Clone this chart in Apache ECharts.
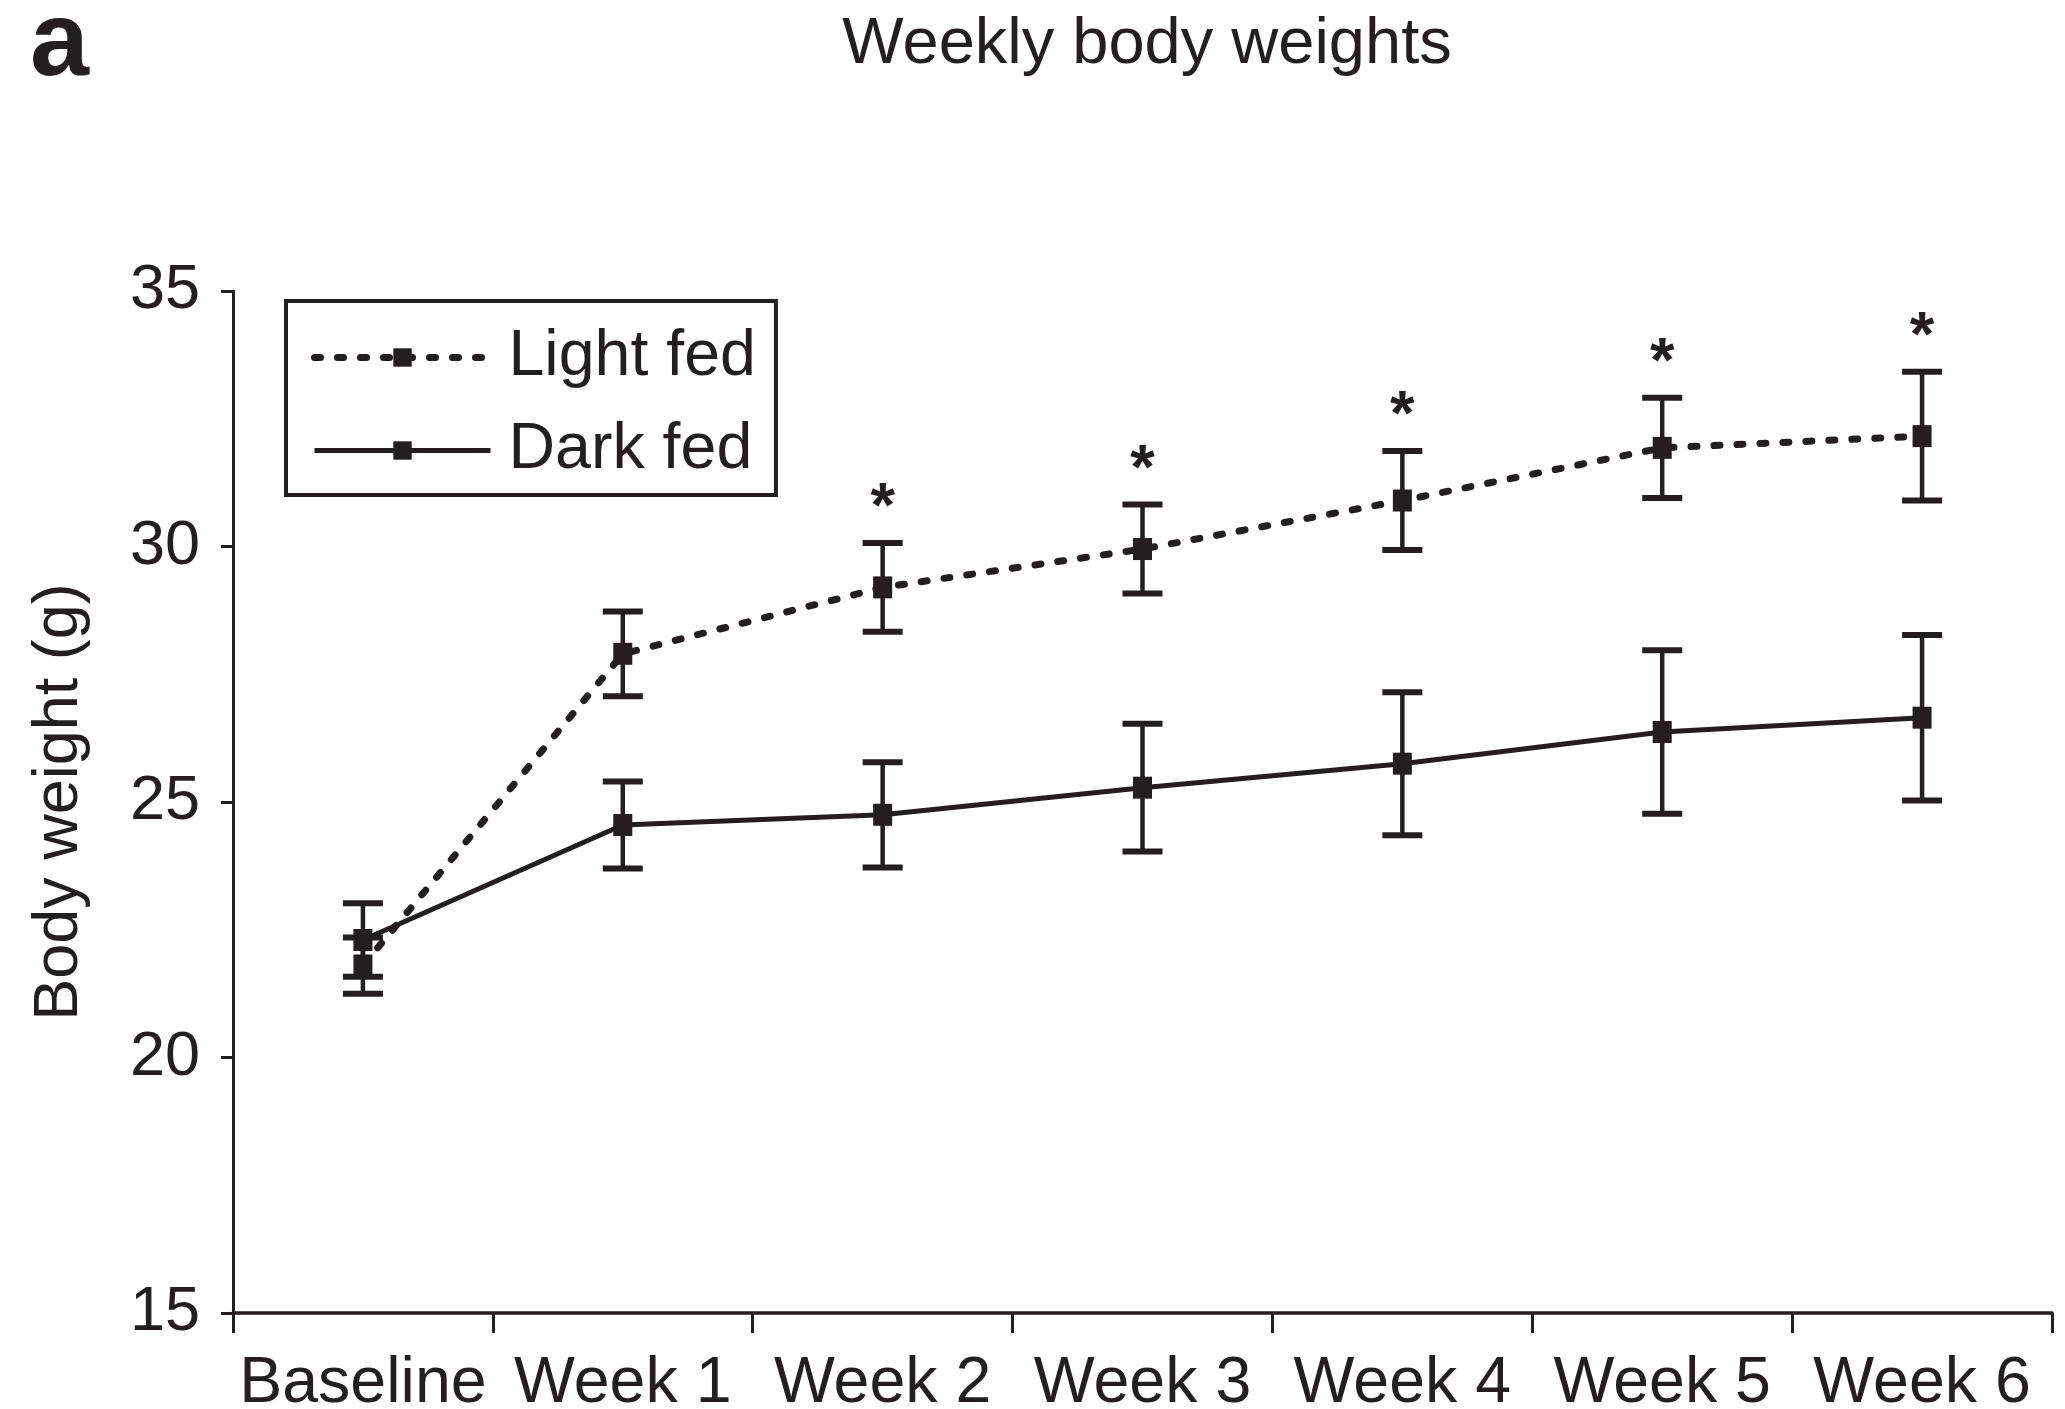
<!DOCTYPE html>
<html><head><meta charset="utf-8">
<script src="https://cdn.jsdelivr.net/npm/echarts@6/dist/echarts.min.js"></script>
<style>html,body{margin:0;padding:0;background:#fff}#chart{width:2065px;height:1409px}</style>
</head><body><div id="chart"></div>
<script>
const categories = ['Baseline', 'Week 1', 'Week 2', 'Week 3', 'Week 4', 'Week 5', 'Week 6'];
const lightFed = [21.8, 27.9, 29.2, 29.95, 30.9, 31.93, 32.16];
const lightFedErr = [0.55, 0.83, 0.87, 0.87, 0.97, 0.98, 1.26];
const darkFed = [22.3, 24.55, 24.75, 25.28, 25.75, 26.37, 26.65];
const darkFedErr = [0.72, 0.85, 1.03, 1.25, 1.4, 1.6, 1.62];
const significant = [false, false, true, true, true, true, true];
const yMin = 15, yMax = 35, yInterval = 5;

const C = '#231f20';
const FONT = '"Liberation Sans", Arial, Helvetica, sans-serif';
const FS = 63;
const FSX = 64.5;

function errData(vals, errs, sig) {
  return vals.map((v, i) => [i, v - errs[i], v + errs[i], sig && sig[i] ? 1 : 0]);
}
function errRender(params, api) {
  const i = api.value(0), lo = api.value(1), hi = api.value(2), star = api.value(3);
  const top = api.coord([i, hi]), bot = api.coord([i, lo]);
  const hw = 20;
  const children = [
    {type: 'line', shape: {x1: top[0], y1: top[1], x2: bot[0], y2: bot[1]}, style: {stroke: C, lineWidth: 4.5}},
    {type: 'line', shape: {x1: top[0] - hw, y1: top[1], x2: top[0] + hw, y2: top[1]}, style: {stroke: C, lineWidth: 6}},
    {type: 'line', shape: {x1: bot[0] - hw, y1: bot[1], x2: bot[0] + hw, y2: bot[1]}, style: {stroke: C, lineWidth: 6}}
  ];
  if (star) {
    children.push({type: 'text', x: top[0], y: top[1] - 34,
      style: {text: '*', fill: C, font: 'bold ' + FS + 'px ' + FONT, align: 'center', verticalAlign: 'middle'}});
  }
  return {type: 'group', children};
}

const chart = echarts.init(document.getElementById('chart'), null, {renderer: 'canvas'});
chart.setOption({
  animation: false,
  backgroundColor: '#fff',
  title: [
    {text: 'Weekly body weights', left: 1142, textAlign: 'center', top: 8,
      textStyle: {fontSize: 65, fontWeight: 'normal', color: C, fontFamily: FONT}},
    {text: 'a', left: 25, top: -12,
      textStyle: {fontSize: 106, fontWeight: 'bold', color: C, fontFamily: FONT}}
  ],
  grid: {left: 233, right: 13, top: 291, bottom: 96, containLabel: false, outerBoundsMode: 'none'},
  legend: {
    data: [
      {name: 'Light fed', lineStyle: {width: 7, type: [6, 17], cap: 'round', color: C}},
      {name: 'Dark fed', lineStyle: {width: 5, type: 'solid', color: C}}
    ],
    orient: 'vertical', left: 286, top: 301,
    padding: [24, 20, 12, 25],
    borderColor: C, borderWidth: 4,
    itemWidth: 176, itemHeight: 23, itemGap: 28,
    textStyle: {fontSize: FSX, color: C, fontFamily: FONT, padding: [0, 0, 0, 13]},
    selectedMode: false
  },
  xAxis: {
    type: 'category', data: categories, boundaryGap: true,
    axisLine: {lineStyle: {color: C, width: 3.5}},
    axisTick: {show: true, length: 20, lineStyle: {color: C, width: 3}, alignWithLabel: false},
    axisLabel: {fontSize: FSX, color: C, fontFamily: FONT, margin: 39, interval: 0}
  },
  yAxis: {
    type: 'value', min: yMin, max: yMax, interval: yInterval,
    name: 'Body weight (g)', nameLocation: 'middle', nameGap: 142,
    nameTextStyle: {fontSize: FS, color: C, fontFamily: FONT},
    axisLine: {show: true, lineStyle: {color: C, width: 3}},
    axisTick: {show: true, length: 12, lineStyle: {color: C, width: 3}},
    axisLabel: {fontSize: FS, color: C, fontFamily: FONT, margin: 33},
    splitLine: {show: false}
  },
  series: [
    {type: 'custom', name: 'Dark fed SEM', renderItem: errRender, data: errData(darkFed, darkFedErr, null),
      encode: {x: 0, y: [1, 2]}, z: 3, silent: true},
    {type: 'custom', name: 'Light fed SEM', renderItem: errRender, data: errData(lightFed, lightFedErr, significant),
      encode: {x: 0, y: [1, 2]}, z: 3, silent: true},
    {type: 'line', name: 'Light fed', data: lightFed, symbol: 'rect', symbolSize: [19, 22],
      lineStyle: {color: C, width: 7, type: [6, 17], cap: 'round'},
      itemStyle: {color: C}, z: 4},
    {type: 'line', name: 'Dark fed', data: darkFed, symbol: 'rect', symbolSize: [19, 22],
      lineStyle: {color: C, width: 5, type: 'solid'},
      itemStyle: {color: C}, z: 4}
  ]
});
</script></body></html>
